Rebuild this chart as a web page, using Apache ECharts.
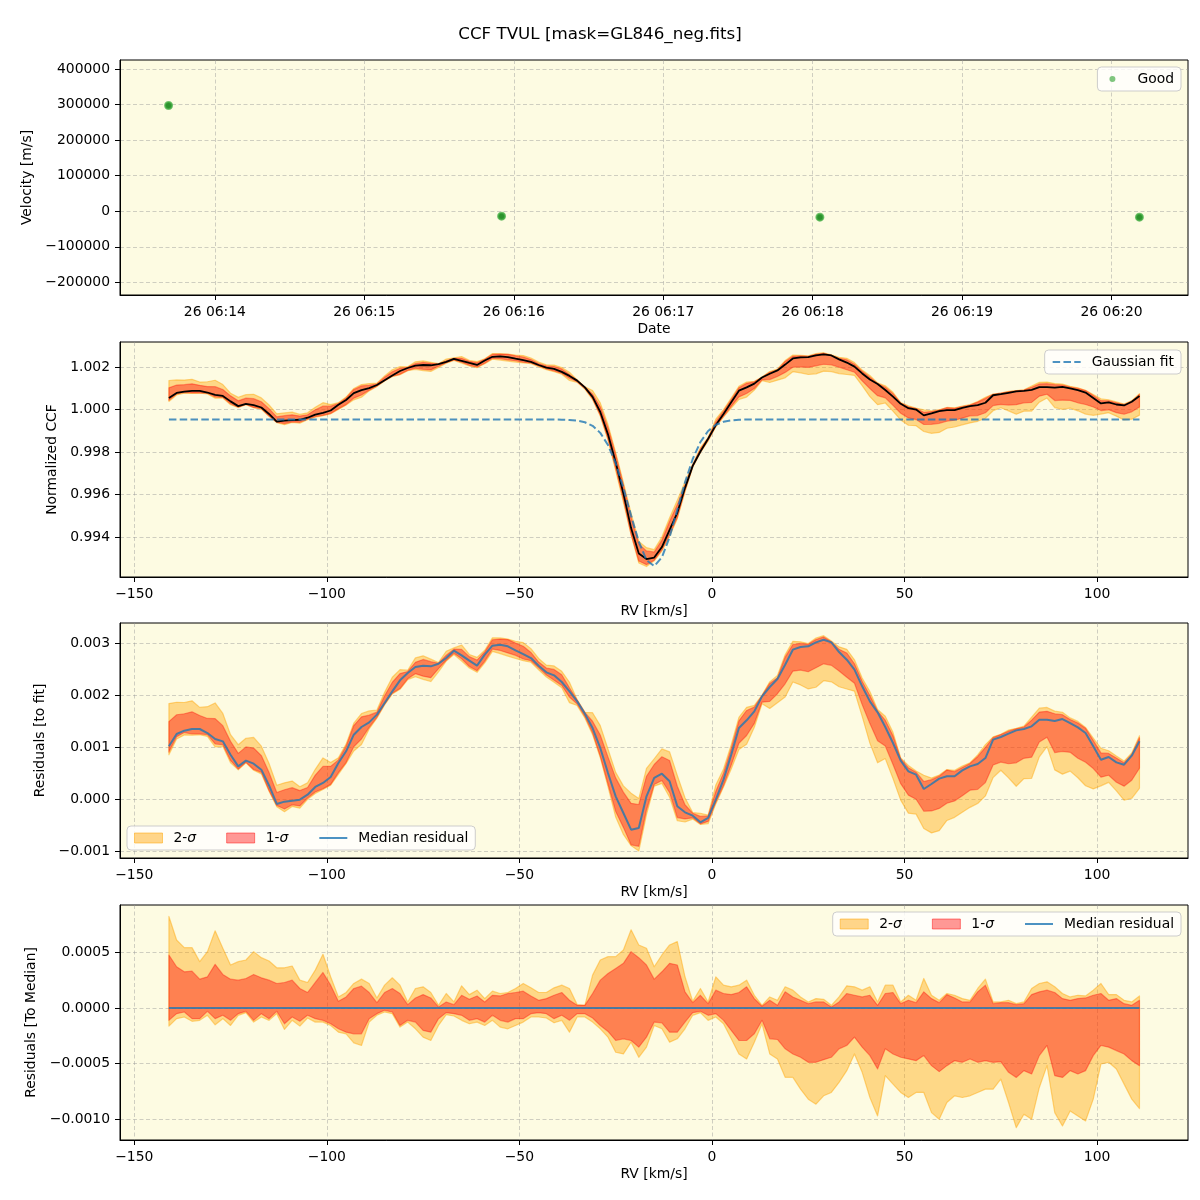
<!DOCTYPE html>
<html><head><meta charset="utf-8">
<script src="https://cdn.jsdelivr.net/npm/echarts@6/dist/echarts.min.js"></script>
<style>html,body{margin:0;padding:0;background:#fff}#c{width:1200px;height:1200px}</style>
</head><body><div id="c"></div>
<script>
// ---------- DATA ----------
const obsDay = '26';
const obsTimes = ['06:13:41.4', '06:15:55.1', '06:18:02.9', '06:20:11.2'];
const obsVelocity = [297200, -14000, -16800, -16800];
const dateTicks = ['06:14', '06:15', '06:16', '06:17', '06:18', '06:19', '06:20'];
const velTicks = [-200000, -100000, 0, 100000, 200000, 300000, 400000];

const rv = [-141,-139,-137,-135,-133,-131,-129,-127,-125,-123,-121,-119,-117,-115,-113,-111,-109,-107,-105,-103,
  -101,-99,-97,-95,-93,-91,-89,-87,-85,-83,-81,-79,-77,-75,-73,-71,-69,-67,-65,-63,
  -61,-59,-57,-55,-53,-51,-49,-47,-45,-43,-41,-39,-37,-35,-33,-31,-29,-27,-25,-23,
  -21,-19,-17,-15,-13,-11,-9,-7,-5,-3,-1,1,3,5,7,9,11,13,15,17,
  19,21,23,25,27,29,31,33,35,37,39,41,43,45,47,49,51,53,55,57,
  59,61,63,65,67,69,71,73,75,77,79,81,83,85,87,89,91,93,95,97,
  99,101,103,105,107,109,111];

// Gaussian fit of the CCF (normalized units)
const gaussFit = [
  0.99953,0.99953,0.99953,0.99953,0.99953,0.99953,0.99953,0.99953,0.99953,0.99953,
  0.99953,0.99953,0.99953,0.99953,0.99953,0.99953,0.99953,0.99953,0.99953,0.99953,
  0.99953,0.99953,0.99953,0.99953,0.99953,0.99953,0.99953,0.99953,0.99953,0.99953,
  0.99953,0.99953,0.99953,0.99953,0.99953,0.99953,0.99953,0.99953,0.99953,0.99953,
  0.99953,0.99953,0.99953,0.99953,0.99953,0.99953,0.99953,0.99953,0.99953,0.99953,
  0.99953,
  0.99952,0.99951,0.99948,0.99940,0.99923,0.99890,0.99833,0.99747,0.99632,0.99501,
  0.99378,0.99291,0.99263,0.99304,0.99400,0.99528,0.99657,0.99767,0.99847,0.99899,
  0.99928,0.99942,0.99949,0.99952,
  0.99953,0.99953,0.99953,0.99953,0.99953,0.99953,0.99953,0.99953,0.99953,0.99953,
  0.99953,0.99953,0.99953,0.99953,0.99953,0.99953,0.99953,0.99953,0.99953,0.99953,
  0.99953,0.99953,0.99953,0.99953,0.99953,0.99953,0.99953,0.99953,0.99953,0.99953,
  0.99953,0.99953,0.99953,0.99953,0.99953,0.99953,0.99953,0.99953,0.99953,0.99953,
  0.99953,0.99953,0.99953,0.99953,0.99953,0.99953,0.99953,0.99953,0.99953,0.99953,
  0.99953,0.99953];

// Median residual to fit, in units of 1e-6
const residMedianPpm = [1013,1250,1314,1346,1346,1269,1154,1109,852,628,
  737,679,564,260,-96,-51,-32,-13,83,231,
  308,423,692,917,1237,1385,1474,1622,1846,2070,
  2282,2423,2538,2564,2551,2602,2711,2852,2763,2660,
  2564,2776,2949,2968,2936,2859,2788,2711,2564,2436,
  2378,2250,2070,1878,1641,1365,981,500,51,-269,
  -590,-558,51,404,487,340,-141,-256,-321,-449,
  -365,-13,372,853,1365,1513,1686,1974,2154,2308,
  2583,2872,2923,2936,3013,3064,3013,2827,2679,2487,
  2167,1878,1667,1385,1077,737,532,468,192,288,
  391,436,436,551,628,673,788,1141,1192,1256,
  1320,1346,1397,1526,1526,1500,1538,1461,1378,1269,
  1013,756,808,705,660,833,1109];

// Quantile offsets relative to the median, in units of 1e-6
const sig2HiPpm = [822,611,542,542,416,506,693,536,386,416,
  431,506,452,422,361,361,377,250,229,340,
  482,280,99,139,220,259,220,90,205,271,
  205,54,175,190,139,24,130,54,199,120,
  160,84,151,130,139,175,220,181,139,139,
  181,205,175,30,24,295,431,461,461,521,
  702,566,536,370,476,566,596,280,60,175,
  54,280,205,190,205,250,114,24,99,69,
  190,160,99,54,84,78,24,99,199,190,
  160,190,54,205,205,54,114,69,265,114,
  69,130,114,84,69,175,259,54,54,69,
  39,54,175,220,235,190,130,99,114,108,
  160,220,120,120,69,54,108];
const sig1HiPpm = [476,370,325,331,259,280,392,301,259,250,
  265,301,271,250,220,229,250,175,139,229,
  319,205,60,99,175,196,139,48,139,175,
  130,30,90,120,90,9,54,30,114,78,
  108,54,114,108,130,139,151,108,69,84,
  114,139,69,24,24,130,250,310,355,401,
  506,452,386,259,325,401,386,145,48,114,
  39,160,130,120,139,190,84,15,69,24,
  145,99,69,39,54,54,9,54,130,114,
  99,114,24,130,139,39,69,48,145,84,
  48,120,90,54,54,145,205,39,48,48,
  30,39,120,145,160,139,84,69,84,90,
  114,130,69,84,39,24,69];
const sig1LoPpm = [-111,-51,-36,-96,-96,-30,-96,-66,-111,-51,
  -30,-111,-51,-96,-30,-142,-81,-120,-66,-96,
  -111,-142,-187,-217,-232,-232,-96,-51,-21,-36,
  -157,-111,-127,-202,-217,-96,-42,-51,-66,-111,
  -96,-127,-66,-111,-127,-96,-96,-51,-42,-51,
  -96,-66,-111,-51,-51,-90,-157,-211,-292,-277,
  -292,-352,-262,-127,-133,-217,-217,-127,-42,-30,
  -66,-51,-111,-202,-292,-292,-232,-111,-277,-283,
  -367,-413,-443,-488,-488,-464,-443,-367,-337,-262,
  -352,-428,-548,-367,-413,-443,-458,-473,-428,-518,
  -572,-518,-473,-488,-458,-488,-473,-488,-482,-578,
  -624,-563,-593,-428,-337,-608,-624,-563,-593,-563,
  -428,-337,-352,-383,-413,-473,-518];
const sig2LoPpm = [-163,-96,-81,-120,-111,-66,-151,-96,-157,-66,
  -42,-127,-81,-111,-51,-193,-111,-163,-90,-127,
  -127,-157,-217,-232,-313,-337,-127,-66,-36,-51,
  -172,-127,-187,-262,-292,-157,-60,-72,-111,-142,
  -127,-157,-111,-172,-187,-157,-127,-81,-81,-90,
  -133,-111,-217,-81,-81,-127,-187,-262,-398,-413,
  -307,-443,-352,-157,-187,-307,-277,-187,-66,-42,
  -111,-81,-142,-277,-413,-458,-307,-142,-413,-458,
  -623,-623,-729,-819,-864,-789,-759,-669,-563,-413,
  -578,-804,-970,-608,-684,-759,-804,-759,-759,-940,
  -1000,-849,-789,-804,-789,-759,-729,-729,-639,-849,
  -1075,-955,-1000,-714,-518,-940,-1060,-925,-970,-1015,
  -819,-503,-488,-548,-684,-819,-904];

const rvTicks = [-150, -100, -50, 0, 50, 100];
const ccfTicks = [0.994, 0.996, 0.998, 1.000, 1.002];
const resTicks = [-0.001, 0, 0.001, 0.002, 0.003];
const medTicks = [-0.001, -0.0005, 0, 0.0005];

// ---------- BUILD ----------
const PPM = 1e-6;
const toSec = s => { const p = s.split(':').map(Number); return p[0]*3600 + p[1]*60 + (p[2]||0); };
const pad2 = n => String(n).padStart(2, '0');
const minus = s => s.replace(/-/g, '\u2212');
const FONT = 'DejaVu Sans';
const FS = 13.9;
const BG = '#fdfbe2';
const C_ORANGE_FILL = 'rgba(255,165,0,0.4)';
const C_ORANGE_EDGE = 'rgba(255,165,0,0.45)';
const C_RED_FILL = 'rgba(255,0,0,0.4)';
const C_RED_EDGE = 'rgba(255,0,0,0.35)';
const C_BLUE = 'rgba(31,119,180,0.8)';

const grids = [
  {left: 120, right: 12, top: 60, height: 235},
  {left: 120, right: 12, top: 342, height: 235},
  {left: 120, right: 12, top: 623, height: 235},
  {left: 120, right: 12, top: 905, height: 235}
].map(g => Object.assign(g, {show: true, backgroundColor: BG, borderColor: '#000', borderWidth: 1, containLabel: false}));

const splitLine = {show: true, lineStyle: {color: 'rgba(150,150,150,0.45)', width: 1, type: [4, 2.5]}};
function axisCommon(ticks, fmt) {
  return {
    axisLine: {show: true, onZero: false, lineStyle: {color: '#000', width: 1}},
    axisTick: {show: true, length: 5, inside: false, customValues: ticks, lineStyle: {color: '#000', width: 1}},
    axisLabel: {show: true, customValues: ticks, formatter: fmt, color: '#000', fontFamily: FONT, fontSize: FS, margin: 10},
    splitLine: splitLine,
    nameTextStyle: {color: '#000', fontFamily: FONT, fontSize: FS},
    nameLocation: 'middle'
  };
}

const dateTickSec = dateTicks.map(toSec);
const obsSec = obsTimes.map(toSec);
const rvFmt = v => minus(String(Math.round(v)));

const xAxes = [
  Object.assign(axisCommon(dateTickSec, v => { const h = Math.floor(v/3600), m = Math.round((v - h*3600)/60); return obsDay + ' ' + pad2(h) + ':' + pad2(m); }),
    {type: 'value', gridIndex: 0, min: toSec('06:13:21.9'), max: toSec('06:20:30.7'), name: 'Date', nameGap: 27}),
  Object.assign(axisCommon(rvTicks, rvFmt), {type: 'value', gridIndex: 1, min: -153.7, max: 123.6, name: 'RV [km/s]', nameGap: 27}),
  Object.assign(axisCommon(rvTicks, rvFmt), {type: 'value', gridIndex: 2, min: -153.7, max: 123.6, name: 'RV [km/s]', nameGap: 27}),
  Object.assign(axisCommon(rvTicks, rvFmt), {type: 'value', gridIndex: 3, min: -153.7, max: 123.6, name: 'RV [km/s]', nameGap: 27})
];
const yAxes = [
  Object.assign(axisCommon(velTicks, v => minus(String(Math.round(v)))), {type: 'value', gridIndex: 0, min: -235700, max: 425300, name: 'Velocity [m/s]', nameGap: 82}),
  Object.assign(axisCommon(ccfTicks, v => minus(v.toFixed(3))), {type: 'value', gridIndex: 1, min: 0.992118, max: 1.003176, name: 'Normalized CCF', nameGap: 57}),
  Object.assign(axisCommon(resTicks, v => minus(v.toFixed(3))), {type: 'value', gridIndex: 2, min: -0.001135, max: 0.003385, name: 'Residuals [to fit]', nameGap: 68}),
  Object.assign(axisCommon(medTicks, v => minus(v.toFixed(4))), {type: 'value', gridIndex: 3, min: -0.001186, max: 0.000925, name: 'Residuals [To Median]', nameGap: 77})
];

// Filled band between lower and upper quantile curves (like fill_between)
function band(name, axis, base, lo, hi, fill, edge, z) {
  const loVals = rv.map((r, i) => base[i] + lo[i]*PPM);
  const hiVals = rv.map((r, i) => base[i] + hi[i]*PPM);
  return {
    name: name, type: 'custom', xAxisIndex: axis, yAxisIndex: axis, z: z, silent: true,
    coordinateSystem: 'cartesian2d',
    data: rv.map((r, i) => [r, loVals[i], hiVals[i]]),
    encode: {x: 0, y: [1, 2]},
    itemStyle: {color: fill},
    renderItem: function (params, api) {
      if (params.dataIndex !== 0) return null;
      const top = rv.map((r, i) => api.coord([r, hiVals[i]]));
      const bot = rv.map((r, i) => api.coord([r, loVals[i]])).reverse();
      return {type: 'polygon', shape: {points: top.concat(bot)},
        style: {fill: fill, stroke: edge, lineWidth: 1.2, lineJoin: 'round'}};
    }
  };
}

const residMedian = residMedianPpm.map(v => v*PPM);
const ccfMedian = rv.map((r, i) => gaussFit[i] + residMedian[i]);
const zeroBase = residMedian.map(v => v - v);

const series = [
  {name: 'Good', type: 'scatter', xAxisIndex: 0, yAxisIndex: 0, symbol: 'circle', symbolSize: 7,
    itemStyle: {color: '#2d922d', borderColor: 'rgba(70,175,70,0.75)', borderWidth: 2, opacity: 1},
    data: obsSec.map((t, i) => [t, obsVelocity[i]]), z: 5},
  // panel 2
  band('ccf 2-σ', 1, ccfMedian, sig2LoPpm, sig2HiPpm, C_ORANGE_FILL, C_ORANGE_EDGE, 2),
  band('ccf 1-σ', 1, ccfMedian, sig1LoPpm, sig1HiPpm, C_RED_FILL, C_RED_EDGE, 3),
  {name: 'CCF median', type: 'line', xAxisIndex: 1, yAxisIndex: 1, symbol: 'none', z: 4,
    lineStyle: {color: '#000', width: 1.8}, data: rv.map((r, i) => [r, ccfMedian[i]])},
  {name: 'Gaussian fit', type: 'line', xAxisIndex: 1, yAxisIndex: 1, symbol: 'none', z: 5,
    lineStyle: {color: C_BLUE, width: 2, type: [7.5, 3.3]}, itemStyle: {color: C_BLUE}, data: rv.map((r, i) => [r, gaussFit[i]])},
  // panel 3
  band('2-σ', 2, residMedian, sig2LoPpm, sig2HiPpm, C_ORANGE_FILL, C_ORANGE_EDGE, 2),
  band('1-σ', 2, residMedian, sig1LoPpm, sig1HiPpm, C_RED_FILL, C_RED_EDGE, 3),
  {name: 'Median residual', type: 'line', xAxisIndex: 2, yAxisIndex: 2, symbol: 'none', z: 4,
    lineStyle: {color: C_BLUE, width: 2}, itemStyle: {color: C_BLUE}, data: rv.map((r, i) => [r, residMedian[i]])},
  // panel 4
  band('2-σ', 3, zeroBase, sig2LoPpm, sig2HiPpm, C_ORANGE_FILL, C_ORANGE_EDGE, 2),
  band('1-σ', 3, zeroBase, sig1LoPpm, sig1HiPpm, C_RED_FILL, C_RED_EDGE, 3),
  {name: 'Median residual', type: 'line', xAxisIndex: 3, yAxisIndex: 3, symbol: 'none', z: 4,
    lineStyle: {color: C_BLUE, width: 2}, itemStyle: {color: C_BLUE}, data: rv.map((r, i) => [r, zeroBase[i]])}
];

const legendBase = {
  backgroundColor: 'rgba(255,255,255,0.8)', borderColor: 'rgba(200,200,200,0.9)', borderWidth: 1, borderRadius: 4,
  padding: [5, 7, 5, 7], itemWidth: 28, itemHeight: 10, itemGap: 30, selectedMode: false, orient: 'horizontal',
  textStyle: {color: '#000', fontFamily: FONT, fontSize: FS, padding: [0, 0, 0, 6],
    rich: {i: {fontStyle: 'italic', fontFamily: FONT, fontSize: FS, color: '#000'}}},
  formatter: n => n.replace('σ', '{i|σ}')
};
const sigmaItems = [
  {name: '2-σ', icon: 'rect', itemStyle: {color: 'rgba(255,165,0,0.45)', borderColor: 'rgba(255,165,0,0.5)', borderWidth: 1}},
  {name: '1-σ', icon: 'rect', itemStyle: {color: 'rgba(255,0,0,0.4)', borderColor: 'rgba(255,0,0,0.45)', borderWidth: 1}},
  {name: 'Median residual', itemStyle: {opacity: 0}}
];
const legends = [
  Object.assign({}, legendBase, {right: 19, top: 67, itemHeight: 6, padding: [5, 7, 5, 12],
    data: [{name: 'Good', icon: 'circle', itemStyle: {color: 'rgba(44,160,44,0.6)', borderWidth: 0}}]}),
  Object.assign({}, legendBase, {right: 19, top: 350, data: [{name: 'Gaussian fit', itemStyle: {opacity: 0}}]}),
  Object.assign({}, legendBase, {left: 127, top: 826, data: sigmaItems}),
  Object.assign({}, legendBase, {right: 19, top: 912, data: sigmaItems})
];

const chart = echarts.init(document.getElementById('c'), null, {renderer: 'canvas'});
chart.setOption({
  animation: false,
  backgroundColor: '#fff',
  textStyle: {fontFamily: FONT},
  title: {text: 'CCF TVUL [mask=GL846_neg.fits]', left: 'center', top: 21,
    textStyle: {fontFamily: FONT, fontSize: 16.7, fontWeight: 'normal', color: '#000'}},
  grid: grids,
  xAxis: xAxes,
  yAxis: yAxes,
  legend: legends,
  series: series
});
</script>
</body></html>
